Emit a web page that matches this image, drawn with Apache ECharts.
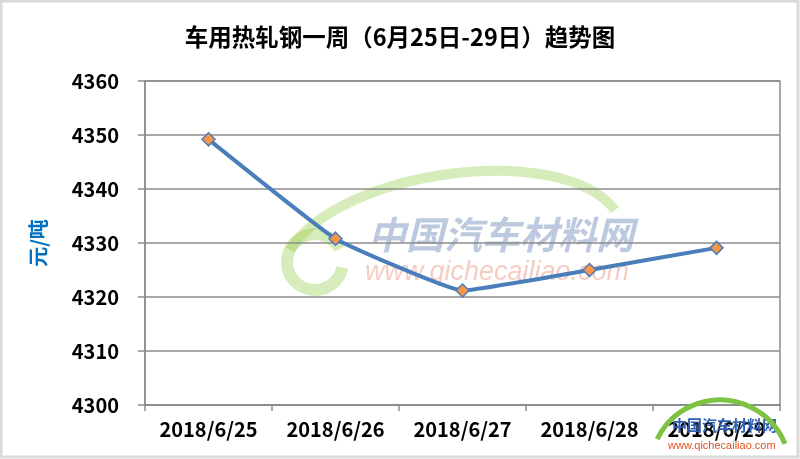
<!DOCTYPE html>
<html><head><meta charset="utf-8">
<script src="https://cdn.jsdelivr.net/npm/echarts@6/dist/echarts.min.js"></script>
<style>html,body{margin:0;padding:0;background:#fff}#c{width:800px;height:459px}</style>
</head><body><div id="c"></div>
<script>
const categories = ['2018/6/25','2018/6/26','2018/6/27','2018/6/28','2018/6/29'];
const prices = [4349.2, 4330.8, 4321.2, 4325.0, 4329.1];
const titleText = '车用热轧钢一周（6月25日-29日）趋势图';
const yName = '元/吨';

const chart = echarts.init(document.getElementById('c'));
const F = '"Noto Sans CJK SC","Noto Sans",sans-serif';
chart.setOption({
  animation:false,
  backgroundColor:'#fff',
  title:{text:titleText,left:'center',top:20,textStyle:{fontFamily:F,fontSize:23.5,fontWeight:'bold',color:'#000'}},
  grid:{left:145,right:20,top:81,bottom:54,show:true,borderColor:'#8c8c8c',borderWidth:1.5,containLabel:false},
  graphic:[
    {type:'rect',shape:{x:1,y:1,width:797,height:456},style:{fill:'none',stroke:'#d9d9d9',lineWidth:3},z:100},
    {type:'text',left:368,top:216,style:{text:'中国汽车材料网',font:'italic bold 38px "Noto Sans CJK SC"',fill:'rgba(90,120,175,0.4)'},z:-1},
    {type:'text',left:365,top:259,style:{text:'www.qichecailiao.com',font:'italic 27px "Liberation Sans"',fill:'rgba(225,110,80,0.35)'},z:-1},
    {type:'arc',shape:{cx:315,cy:262,r:28,startAngle:0.2,endAngle:5.8},style:{stroke:'rgba(140,200,60,0.35)',lineWidth:12,fill:'none'},z:-1},
    {type:'bezierCurve',shape:{x1:290,y1:250,cpx1:340,cpy1:170,cpx2:560,cpy2:140,x2:615,y2:210},style:{stroke:'rgba(140,200,60,0.35)',lineWidth:10,fill:'none'},z:-1},
    {type:'text',left:672,top:418,style:{text:'中国汽车材料网',font:'bold 15px "Noto Sans CJK SC"',fill:'#3060b0'},z:50},
    {type:'text',left:668,top:440,style:{text:'www.qichecailiao.com',font:'11px "Liberation Sans"',fill:'#e05020'},z:50},
    {type:'arc',shape:{cx:720,cy:470,r:70,startAngle:3.6,endAngle:5.9},style:{stroke:'#7dc242',lineWidth:5,fill:'none'},z:50}
  ],
  xAxis:{type:'category',data:categories,boundaryGap:true,
    axisLine:{lineStyle:{color:'#8c8c8c',width:1.5}},
    axisTick:{show:true,length:6,lineStyle:{color:'#8c8c8c',width:1.5}},
    axisLabel:{interval:0,fontFamily:F,fontSize:20,fontWeight:'bold',color:'#000',margin:14}},
  yAxis:{type:'value',min:4300,max:4360,interval:10,name:yName,nameLocation:'middle',nameGap:97,nameRotate:90,
    nameTextStyle:{fontFamily:F,fontSize:20,fontWeight:'bold',color:'#0070c0'},
    axisLine:{show:true,lineStyle:{color:'#8c8c8c',width:1.5}},
    axisTick:{show:true,length:7,lineStyle:{color:'#8c8c8c',width:1.5}},
    splitLine:{lineStyle:{color:'#8c8c8c',width:1.5}},
    axisLabel:{fontFamily:F,fontSize:20,fontWeight:'bold',color:'#000',margin:26,formatter:v=>String(v)}},
  series:[{type:'line',data:prices,smooth:0.1,symbol:'diamond',symbolSize:13,
    lineStyle:{color:'#4a7ebb',width:4},
    itemStyle:{color:'#f79646',borderColor:'#4a7ebb',borderWidth:1.5}}]
});
</script></body></html>
